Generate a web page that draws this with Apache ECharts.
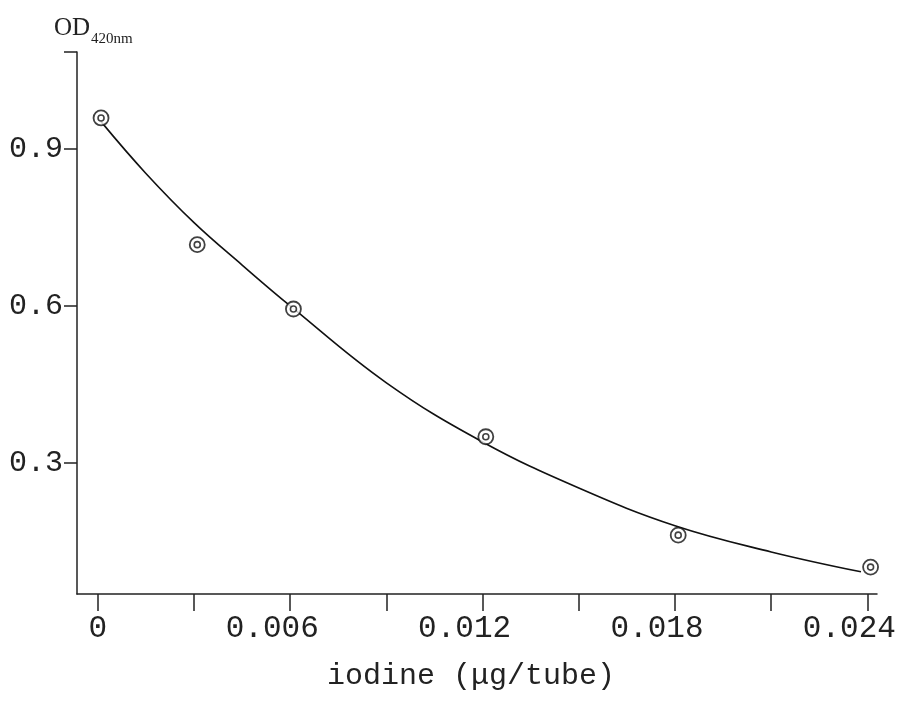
<!DOCTYPE html>
<html>
<head>
<meta charset="utf-8">
<script src="https://cdn.jsdelivr.net/npm/echarts@6/dist/echarts.min.js"></script>
<style>html,body{margin:0;padding:0;background:#fff;}#c{width:898px;height:710px;}</style>
</head>
<body>
<div id="c"></div>
<script>
// measured points (iodine µg/tube, OD420nm)
const pointX = [0.0001, 0.0031, 0.0061, 0.0121, 0.0181, 0.0241];
const pointY = [0.959, 0.717, 0.594, 0.350, 0.162, 0.101];
// fitted curve
const curveX = [0.0001, 0.0015, 0.003, 0.0045, 0.006, 0.009, 0.012, 0.015, 0.018, 0.021, 0.0238];
const curveY = [0.952, 0.853, 0.759, 0.678, 0.600, 0.453, 0.340, 0.252, 0.180, 0.130, 0.092];
const xTicks = [0, 0.003, 0.006, 0.009, 0.012, 0.015, 0.018, 0.021, 0.024];
const xLabels = [0, 0.006, 0.012, 0.018, 0.024];
const yTicks = [0.3, 0.6, 0.9, 1.085];
const yLabels = [0.3, 0.6, 0.9];

const pts = pointX.map((x, i) => [x, pointY[i]]);
const curve = curveX.map((x, i) => [x, curveY[i]]);
const mono = 'Liberation Mono';

const chart = echarts.init(document.getElementById('c'), null, {renderer: 'canvas'});
chart.setOption({
  animation: false,
  backgroundColor: '#ffffff',
  title: {
    left: 49, top: 6,
    text: '{a|OD}{b|420nm}',
    textStyle: {
      fontWeight: 'normal',
      rich: {
        a: {fontFamily: 'Liberation Serif', fontSize: 25, fontWeight: 'normal', color: '#222', verticalAlign: 'bottom', lineHeight: 30},
        b: {fontFamily: 'Liberation Serif', fontSize: 15, fontWeight: 'normal', color: '#222', verticalAlign: 'bottom', padding: [0, 0, -6, 1], lineHeight: 30}
      }
    }
  },
  grid: {left: 77, right: 21, top: 52, bottom: 116, containLabel: false, outerBoundsMode: 'none'},
  xAxis: {
    type: 'value', min: -0.00065, max: 0.0243,
    splitLine: {show: false},
    axisLine: {show: true, onZero: false, lineStyle: {color: '#222', width: 1.5}},
    axisTick: {show: true, customValues: xTicks, length: 17, lineStyle: {color: '#222', width: 1.5}},
    axisLabel: {
      customValues: xLabels, margin: 19,
      fontFamily: mono, fontSize: 31, color: '#222',
      formatter: v => (Math.abs(v) < 1e-9 ? '0' : '{s|' + v.toFixed(3) + '}'),
      rich: {s: {fontFamily: mono, fontSize: 31, color: '#222', padding: [0, 36, 0, 0]}}
    },
    name: 'iodine (\u03bcg/tube)', nameLocation: 'middle', nameGap: 67,
    nameTextStyle: {fontFamily: mono, fontSize: 30, color: '#222', padding: [0, 12, 0, 0]}
  },
  yAxis: {
    type: 'value', min: 0.0496, max: 1.085,
    splitLine: {show: false},
    axisLine: {show: true, onZero: false, lineStyle: {color: '#222', width: 1.5}},
    axisTick: {show: true, customValues: yTicks, length: 13, lineStyle: {color: '#222', width: 1.5}},
    axisLabel: {
      customValues: yLabels, margin: 14,
      fontFamily: mono, fontSize: 30, color: '#222',
      formatter: v => v.toFixed(1)
    }
  },
  series: [
    {
      type: 'line', data: curve, smooth: 0.4, showSymbol: false,
      lineStyle: {color: '#111', width: 1.6}, z: 2
    },
    {
      type: 'scatter', data: pts, symbol: 'circle', symbolSize: 15,
      itemStyle: {color: '#fff', borderColor: '#111', borderWidth: 1.8}, z: 3
    },
    {
      type: 'scatter', data: pts, symbol: 'circle', symbolSize: 6,
      itemStyle: {color: '#fff', borderColor: '#111', borderWidth: 1.6}, z: 4
    }
  ]
});
</script>
</body>
</html>
